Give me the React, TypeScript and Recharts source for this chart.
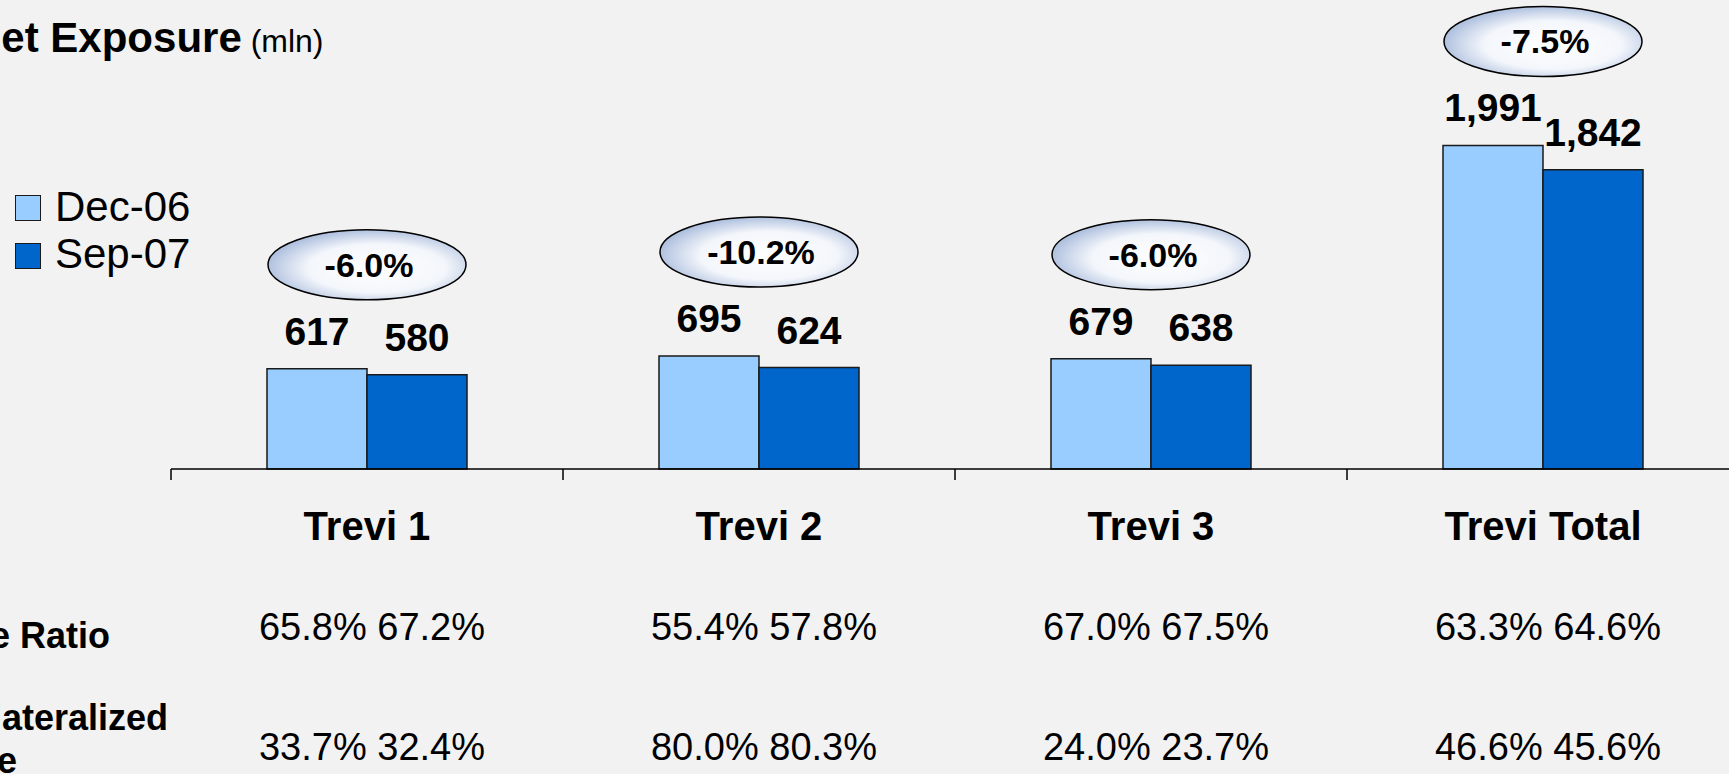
import { BarChart, Bar, XAxis, YAxis, Legend, LabelList } from 'recharts';

const FONT = '"Liberation Sans", Arial, sans-serif';

const categories = ['Trevi 1', 'Trevi 2', 'Trevi 3', 'Trevi Total'];
const dec06 = [617, 695, 679, 1991];
const sep07 = [580, 624, 638, 1842];
const changeLabels = ['-6.0%', '-10.2%', '-6.0%', '-7.5%'];
const ratioDec = [65.8, 55.4, 67.0, 63.3];
const ratioSep = [67.2, 57.8, 67.5, 64.6];
const collDec = [33.7, 80.0, 24.0, 46.6];
const collSep = [32.4, 80.3, 23.7, 45.6];

const data = categories.map((name, i) => ({ name, dec: dec06[i], sep: sep07[i] }));

const pct = (v: number) => `${v.toFixed(1)}%`;

function CategoryTick(props: any) {
  const { x, y, payload } = props;
  const i = props.index ?? payload.index;
  const half = payload.offset ?? 196;
  return (
    <g fontFamily={FONT} fill="#000">
      <line x1={x - half} x2={x - half} y1={y} y2={y + 11} stroke="#000" strokeWidth={1.5} />
      <text x={x} y={y + 71} textAnchor="middle" fontSize={40} fontWeight="bold">
        {payload.value}
      </text>
      <text x={x + 5} y={y + 171} textAnchor="middle" fontSize={38}>
        {`${pct(ratioDec[i])} ${pct(ratioSep[i])}`}
      </text>
      <text x={x + 5} y={y + 291} textAnchor="middle" fontSize={38}>
        {`${pct(collDec[i])} ${pct(collSep[i])}`}
      </text>
    </g>
  );
}

function ValueLabel(props: any) {
  const { x, y, width, value } = props;
  return (
    <text x={x + width / 2} y={y - 24} textAnchor="middle" fontSize={39} fontWeight="bold" fontFamily={FONT} fill="#000">
      {Number(value).toLocaleString('en-US')}
    </text>
  );
}

// bubble with the change, placed above the taller bar of each group
function ChangeBubble(props: any) {
  const { x, y, width, height, value, index } = props;
  const perUnit = height / value;
  const top = y + height - Math.max(dec06[index], sep07[index]) * perUnit;
  const cx = x + width;
  const cy = top - 104;
  return (
    <g>
      <ellipse cx={cx} cy={cy} rx={99} ry={35} fill="url(#bubbleFill)" stroke="#000" strokeWidth={1.5} />
      <text x={cx + 2} y={cy + 12} textAnchor="middle" fontSize={34} fontWeight="bold" fontFamily={FONT} fill="#000">
        {changeLabels[index]}
      </text>
    </g>
  );
}

function LegendBox({ payload }: any) {
  return (
    <div style={{ position: 'relative', height: 0, fontFamily: FONT }}>
      {(payload || []).map((item: any, i: number) => (
        <div key={item.value}>
          <div
            style={{
              position: 'absolute',
              left: 15,
              top: 195 + i * 48,
              width: 26,
              height: 26,
              boxSizing: 'border-box',
              border: '1.5px solid #1a1a1a',
              background: item.color,
            }}
          />
          <div
            style={{
              position: 'absolute',
              left: 55,
              top: 186 + i * 47,
              fontSize: 42,
              lineHeight: '42px',
              color: '#000',
              whiteSpace: 'nowrap',
            }}
          >
            {item.value}
          </div>
        </div>
      ))}
    </div>
  );
}

export default function App() {
  return (
    <div
      style={{
        position: 'absolute',
        left: 0,
        top: 0,
        width: 1729,
        height: 774,
        overflow: 'hidden',
        background: '#f2f2f2',
      }}
    >
      <BarChart
        width={1739}
        height={774}
        data={data}
        margin={{ top: 144, right: 0, left: 171, bottom: 5 }}
        barGap={0}
      >
        <defs>
          <radialGradient id="bubbleFill" cx="55%" cy="55%" r="58%">
            <stop offset="0%" stopColor="#ffffff" />
            <stop offset="60%" stopColor="#f3f6fb" />
            <stop offset="100%" stopColor="#a7badb" />
          </radialGradient>
        </defs>
        <XAxis
          dataKey="name"
          height={300}
          axisLine={{ stroke: '#000', strokeWidth: 1.5 }}
          tickLine={false}
          tickSize={0}
          tickMargin={0}
          interval={0}
          tick={<CategoryTick />}
        />
        <YAxis hide domain={[0, 2000]} />
        <Legend
          layout="horizontal"
          verticalAlign="top"
          align="left"
          wrapperStyle={{ left: 0, top: 0, width: 300, height: 0 }}
          content={<LegendBox />}
        />
        <Bar dataKey="dec" name="Dec-06" fill="#99ccff" stroke="#1a1a1a" strokeWidth={1.5} barSize={100} isAnimationActive={false}>
          <LabelList dataKey="dec" content={<ValueLabel />} />
          <LabelList dataKey="dec" content={<ChangeBubble />} />
        </Bar>
        <Bar dataKey="sep" name="Sep-07" fill="#0066cc" stroke="#1a1a1a" strokeWidth={1.5} barSize={100} isAnimationActive={false}>
          <LabelList dataKey="sep" content={<ValueLabel />} />
        </Bar>
      </BarChart>
      <svg
        width={1729}
        height={774}
        style={{ position: 'absolute', left: 0, top: 0, pointerEvents: 'none' }}
        fontFamily={FONT}
        fill="#000"
      >
        <text x={-29} y={52} fontSize={42} fontWeight="bold">
          Net Exposure<tspan fontSize={32} fontWeight="normal"> (mln)</tspan>
        </text>
        <text x={110} y={648} textAnchor="end" fontSize={36} fontWeight="bold">
          Loan to Value Ratio
        </text>
        <text x={168} y={730} textAnchor="end" fontSize={36} fontWeight="bold">
          Collateralized
        </text>
        <text x={17} y={773} textAnchor="end" fontSize={36} fontWeight="bold">
          Share
        </text>
      </svg>
    </div>
  );
}
